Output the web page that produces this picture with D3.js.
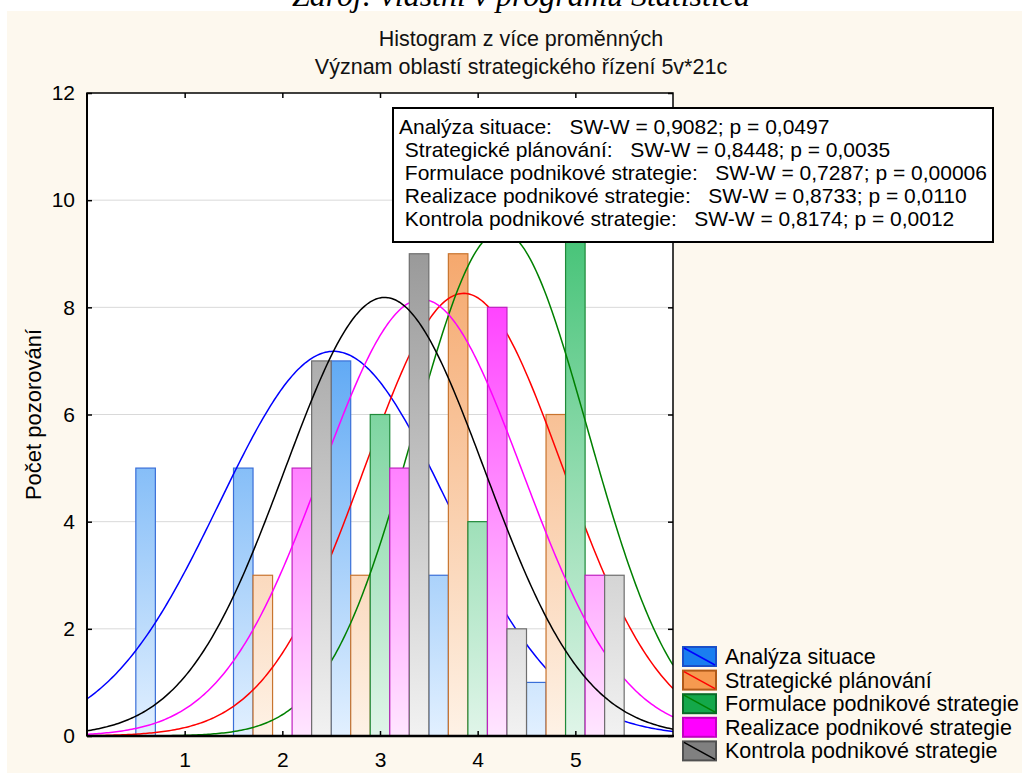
<!DOCTYPE html>
<html><head><meta charset="utf-8">
<script src="https://cdn.jsdelivr.net/npm/d3@7"></script>
<style>
html,body{margin:0;padding:0;background:#fff;}
svg text{font-family:"Liberation Sans",Arial,sans-serif;white-space:pre;}
</style></head>
<body>
<svg id="c" width="1022" height="773"></svg>
<script>
// ---- data ----
const bins = [1, 2, 3, 4, 5];
const seriesNames = ["Analýza situace", "Strategické plánování", "Formulace podnikové strategie", "Realizace podnikové strategie", "Kontrola podnikové strategie"];
const analyza     = [5, 5, 7, 3, 1];
const planovani   = [0, 3, 3, 9, 6];
const formulace   = [0, 0, 6, 4, 11];
const realizace   = [0, 5, 5, 8, 3];
const kontrola    = [0, 7, 9, 2, 3];
const seriesValues = [analyza, planovani, formulace, realizace, kontrola];
const statLines = [
  "Analýza situace:   SW-W = 0,9082; p = 0,0497",
  " Strategické plánování:   SW-W = 0,8448; p = 0,0035",
  " Formulace podnikové strategie:   SW-W = 0,7287; p = 0,00006",
  " Realizace podnikové strategie:   SW-W = 0,8733; p = 0,0110",
  " Kontrola podnikové strategie:   SW-W = 0,8174; p = 0,0012"
];
const xTicks = [1, 2, 3, 4, 5];
const yTicks = [0, 2, 4, 6, 8, 10, 12];
const titleLines = ["Histogram z více proměnných", "Význam oblastí strategického řízení 5v*21c"];
const caption = "Zdroj: vlastní v programu Statistica";
const yTitle = "Počet pozorování";

// ---- styles ----
const barLight = ["#e2f0ff", "#fef2e6", "#e0f5e9", "#ffe6ff", "#f2f2f2"];
const barDark  = ["#2a8cf0", "#f4a060", "#3cc070", "#ff1cff", "#909090"];
const barStroke = ["#3a6fd8", "#c8742e", "#1f8a3a", "#c020c0", "#6e6e6e"];
const curveColor = ["#0000ff", "#ff0000", "#008000", "#ff00ff", "#000000"];
const legFill = ["#1a7ef0", "#f59a50", "#14a84a", "#ff00ff", "#808080"];
const legStroke = ["#1a50c8", "#b05a18", "#0a6a28", "#c000c0", "#505050"];

const svg = d3.select("#c");
const L = 87, R = 673, T = 93, B = 736;
const x = d3.scaleLinear().domain([0, 6]).range([L, R]);
const y = d3.scaleLinear().domain([0, 12]).range([B, T]);

// background
svg.append("rect").attr("x", 7).attr("y", 11).attr("width", 1015).attr("height", 762).attr("fill", "#fdf8ee");
// caption (cut at top in the original)
svg.append("text").attr("x", 521).attr("y", 6).attr("text-anchor", "middle")
  .style("font-family", "'Liberation Serif','Times New Roman',serif").style("font-style", "italic")
  .style("font-size", "32px").attr("fill", "#000").text(caption);
// titles
titleLines.forEach((t, i) => {
  svg.append("text").attr("x", 521).attr("y", 46 + i * 28).attr("text-anchor", "middle")
    .style("font-size", "21.5px").attr("fill", "#111").text(t);
});

// plot area
svg.append("rect").attr("x", L).attr("y", T).attr("width", R - L).attr("height", B - T).attr("fill", "#fff");
const defs = svg.append("defs");
defs.append("clipPath").attr("id", "clip").append("rect").attr("x", L).attr("y", T).attr("width", R - L).attr("height", B - T);

// grid
svg.append("g").selectAll("line").data(yTicks.filter(d => d > 0 && d < 12)).join("line")
  .attr("x1", L).attr("x2", R).attr("y1", d => y(d)).attr("y2", d => y(d))
  .attr("stroke", "#d9d9d9").attr("stroke-width", 1);

// gradients
seriesValues.forEach((s, i) => {
  const g = defs.append("linearGradient").attr("id", "grad" + i).attr("gradientUnits", "userSpaceOnUse")
    .attr("x1", 0).attr("x2", 0).attr("y1", y(0)).attr("y2", y(10));
  g.append("stop").attr("offset", 0).attr("stop-color", barLight[i]);
  g.append("stop").attr("offset", 1).attr("stop-color", barDark[i]);
});

// fitted normal curve from each histogram
function fit(vals) {
  const n = d3.sum(vals);
  const mean = d3.sum(vals, (v, k) => v * bins[k]) / n;
  const ss = d3.sum(vals, (v, k) => v * (bins[k] - mean) ** 2);
  const sd = Math.sqrt(ss / (n - 1));
  return { n, mean, sd };
}
const xs = d3.range(0, 6.0001, 0.02);
const plot = svg.append("g").attr("clip-path", "url(#clip)");
seriesValues.forEach((s, i) => {
  const gb = plot.append("g");
  gb.selectAll("rect").data(s.map((v, k) => ({ v, b: bins[k] })).filter(d => d.v > 0)).join("rect")
    .attr("x", d => x(d.b - 0.5 + 0.2 * i))
    .attr("width", d => x(d.b - 0.3 + 0.2 * i) - x(d.b - 0.5 + 0.2 * i))
    .attr("y", d => y(d.v))
    .attr("height", d => y(0) - y(d.v))
    .attr("fill", "url(#grad" + i + ")")
    .attr("stroke", barStroke[i]).attr("stroke-width", 1.2);
  const f = fit(s);
  const line = d3.line().x(d => x(d)).y(d => y(f.n * Math.exp(-0.5 * ((d - f.mean) / f.sd) ** 2) / (f.sd * Math.sqrt(2 * Math.PI))));
  plot.append("path").datum(xs).attr("d", line).attr("fill", "none").attr("stroke", curveColor[i]).attr("stroke-width", 1.5);
});

// frame and axes
svg.append("rect").attr("x", L).attr("y", T).attr("width", R - L).attr("height", B - T)
  .attr("fill", "none").attr("stroke", "#000").attr("stroke-width", 1.5);
svg.append("line").attr("x1", L).attr("x2", R + 1).attr("y1", B).attr("y2", B).attr("stroke", "#000").attr("stroke-width", 2.5);
svg.append("line").attr("x1", L).attr("x2", L).attr("y1", T).attr("y2", B).attr("stroke", "#000").attr("stroke-width", 2);

const xAxis = svg.append("g").attr("transform", `translate(0,${B})`)
  .call(d3.axisBottom(x).tickValues(xTicks).tickSize(-5).tickPadding(16).tickFormat(d3.format("d")));
const xTop = svg.append("g").attr("transform", `translate(0,${T})`)
  .call(d3.axisTop(x).tickValues(xTicks).tickSize(-5).tickFormat(""));
const yAxis = svg.append("g").attr("transform", `translate(${L},0)`)
  .call(d3.axisLeft(y).tickValues(yTicks).tickSize(-5).tickPadding(12).tickFormat(d3.format("d")));
const yRight = svg.append("g").attr("transform", `translate(${R},0)`)
  .call(d3.axisRight(y).tickValues(yTicks).tickSize(-5).tickFormat(""));
[xAxis, xTop, yAxis, yRight].forEach(g => {
  g.select(".domain").remove();
  g.selectAll(".tick line").attr("stroke", "#000").attr("stroke-width", 1.5);
  g.selectAll("text").style("font-size", "21px").style("font-family", "'Liberation Sans',Arial,sans-serif").attr("fill", "#000");
});

// y title
svg.append("text").attr("transform", `translate(41,${(T + B) / 2}) rotate(-90)`).attr("text-anchor", "middle")
  .style("font-size", "22px").attr("fill", "#000").text(yTitle);

// stats box
svg.append("rect").attr("x", 393).attr("y", 108).attr("width", 600).attr("height", 134)
  .attr("fill", "#fff").attr("stroke", "#000").attr("stroke-width", 2);
statLines.forEach((t, i) => {
  const tx = svg.append("text").attr("x", 399).attr("y", 127 + i * 23).attr("dy", "0.35em")
    .attr("xml:space", "preserve").style("font-size", "21px").attr("fill", "#000").text(t);
  const w = tx.node().getComputedTextLength();
  if (399 + w > 987) tx.attr("textLength", 987 - 399).attr("lengthAdjust", "spacingAndGlyphs");
});

// legend
const leg = svg.append("g");
seriesNames.forEach((n, i) => {
  const yy = 647 + i * 23.6;
  leg.append("rect").attr("x", 683).attr("y", yy).attr("width", 33).attr("height", 19)
    .attr("fill", legFill[i]).attr("stroke", legStroke[i]).attr("stroke-width", 2);
  leg.append("line").attr("x1", 684).attr("y1", yy + 1).attr("x2", 715).attr("y2", yy + 18)
    .attr("stroke", curveColor[i]).attr("stroke-width", 1.5);
  leg.append("text").attr("x", 725).attr("y", yy + 9.5).attr("dy", "0.35em")
    .style("font-size", "21.5px").attr("fill", "#000").text(n);
});
</script>
</body></html>
